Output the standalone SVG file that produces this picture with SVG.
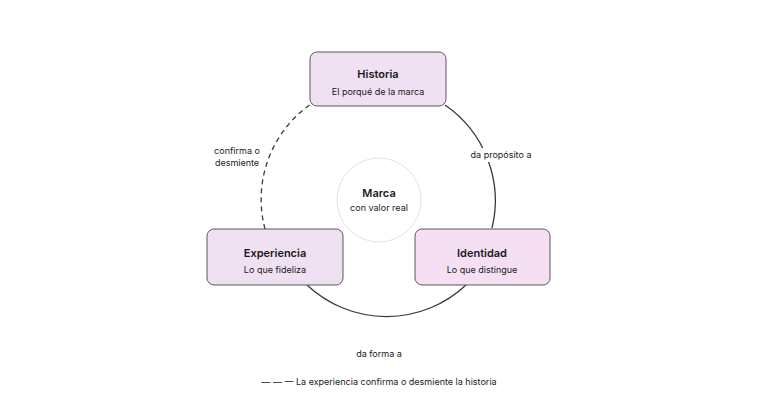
<svg xmlns="http://www.w3.org/2000/svg" width="758" height="400" viewBox="0 0 758 400">
<style>
text{font-family:Inter,"Liberation Sans",sans-serif;fill:#1a1a1a;text-anchor:middle}
.t{font-size:11px;font-weight:600}
.s{font-size:9px}
.box{stroke:#5f5560;stroke-width:1}
.arc{fill:none;stroke:#3a3a3a;stroke-width:1.3}
</style>
<rect width="758" height="400" fill="#fff"/>
<g id="connectors">
<path class="arc" d="M445,105 A116,116 0 0 1 492,228"/>
<path class="arc" d="M466,285 A116,116 0 0 1 307,285"/>
<path class="arc" stroke-dasharray="5,4" d="M265,229 A116,116 0 0 1 311,104"/>
</g>
<g id="center"><circle cx="379" cy="200" r="42" fill="#fff" stroke="#e6e0e6"/>
<text class="t" x="379" y="197">Marca</text><text class="s" x="379" y="211">con valor real</text></g>
<g id="historia"><rect class="box" x="310" y="52" width="136" height="54" rx="7" fill="#efe1f1"/>
<text class="t" x="378" y="78">Historia</text><text class="s" x="378" y="95">El porqué de la marca</text></g>
<g id="experiencia"><rect class="box" x="207" y="229" width="136" height="56" rx="7" fill="#efe1f1"/>
<text class="t" x="275" y="257">Experiencia</text><text class="s" x="275" y="273">Lo que fideliza</text></g>
<g id="identidad"><rect class="box" x="415" y="229" width="135" height="56" rx="7" fill="#f4e0f2"/>
<text class="t" x="482" y="257">Identidad</text><text class="s" x="482" y="273">Lo que distingue</text></g>
<g id="labels">
<text class="s" x="237" y="154">confirma o</text><text class="s" x="237" y="166">desmiente</text>
<rect x="470" y="148" width="62" height="14" fill="#fff"/>
<text class="s" x="501" y="158">da propósito a</text>
<text class="s" x="379" y="357">da forma a</text>
<text class="s" x="379" y="385">— — — La experiencia confirma o desmiente la historia</text>
</g>
</svg>
